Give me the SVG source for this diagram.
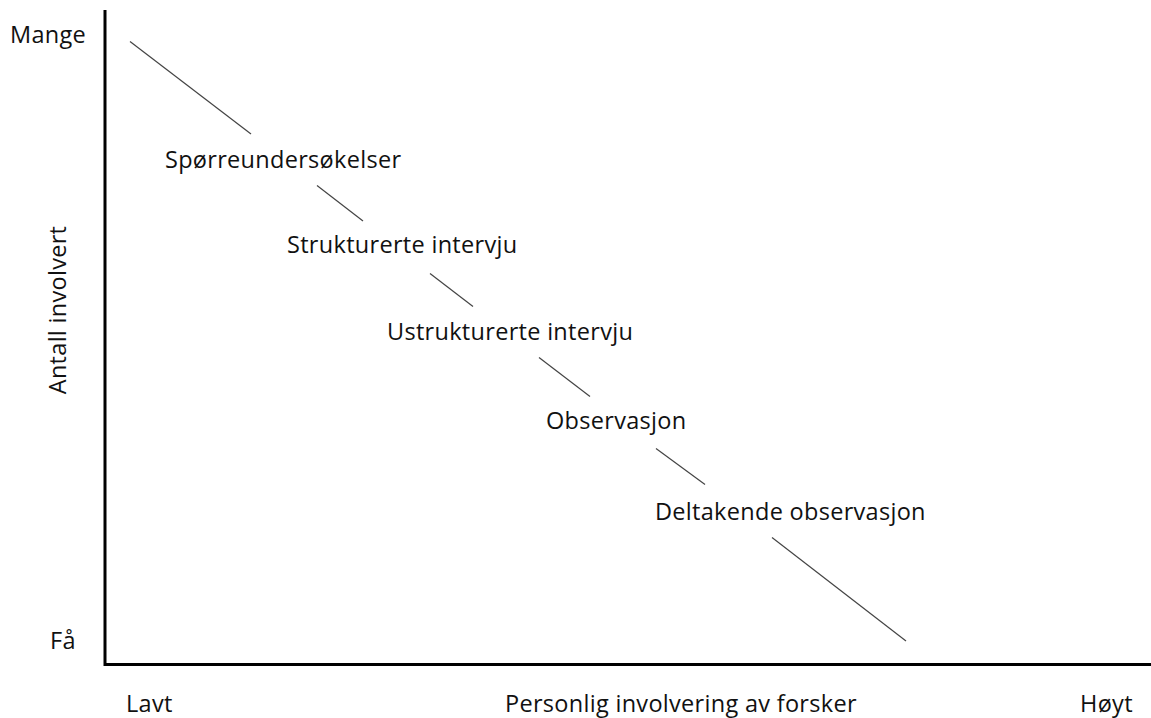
<svg xmlns="http://www.w3.org/2000/svg" width="1151" height="718" viewBox="0 0 1151 718">
  <style>
    .lbl { font-family: "Open Sans", "Noto Sans", "Liberation Sans", sans-serif; font-size: 23.5px; letter-spacing: 0.3px; fill: #111; }
    .axis { stroke: #000; stroke-width: 3; fill: none; }
    .trend { stroke: #444; stroke-width: 1.2; fill: none; }
  </style>
  <rect width="1151" height="718" fill="#fff"/>

  <!-- axes -->
  <g id="axes">
    <path class="axis" d="M105,10 V664.5 H1151"/>
  </g>

  <!-- axis labels -->
  <g id="axis-labels">
    <text class="lbl" x="10" y="43">Mange</text>
    <text class="lbl" x="50" y="649">Få</text>
    <text class="lbl" x="126" y="712">Lavt</text>
    <text class="lbl" x="505" y="712">Personlig involvering av forsker</text>
    <text class="lbl" x="1080" y="712">Høyt</text>
    <text class="lbl" transform="translate(66,310) rotate(-90)" text-anchor="middle">Antall involvert</text>
  </g>

  <!-- diagonal trend segments between method labels -->
  <g id="connectors">
    <line class="trend" x1="130" y1="41.5" x2="251" y2="134"/>
    <line class="trend" x1="317" y1="185.5" x2="363" y2="221"/>
    <line class="trend" x1="430" y1="273.5" x2="473" y2="306.5"/>
    <line class="trend" x1="539" y1="357.5" x2="590" y2="396.5"/>
    <line class="trend" x1="656" y1="448.5" x2="705" y2="484.5"/>
    <line class="trend" x1="772" y1="537.5" x2="906" y2="641"/>
  </g>

  <!-- methods -->
  <g id="node-sporreundersokelser"><text class="lbl" x="165" y="168">Spørreundersøkelser</text></g>
  <g id="node-strukturerte"><text class="lbl" x="287" y="253">Strukturerte intervju</text></g>
  <g id="node-ustrukturerte"><text class="lbl" x="387" y="340">Ustrukturerte intervju</text></g>
  <g id="node-observasjon"><text class="lbl" x="546" y="429">Observasjon</text></g>
  <g id="node-deltakende"><text class="lbl" x="655" y="520">Deltakende observasjon</text></g>
</svg>
